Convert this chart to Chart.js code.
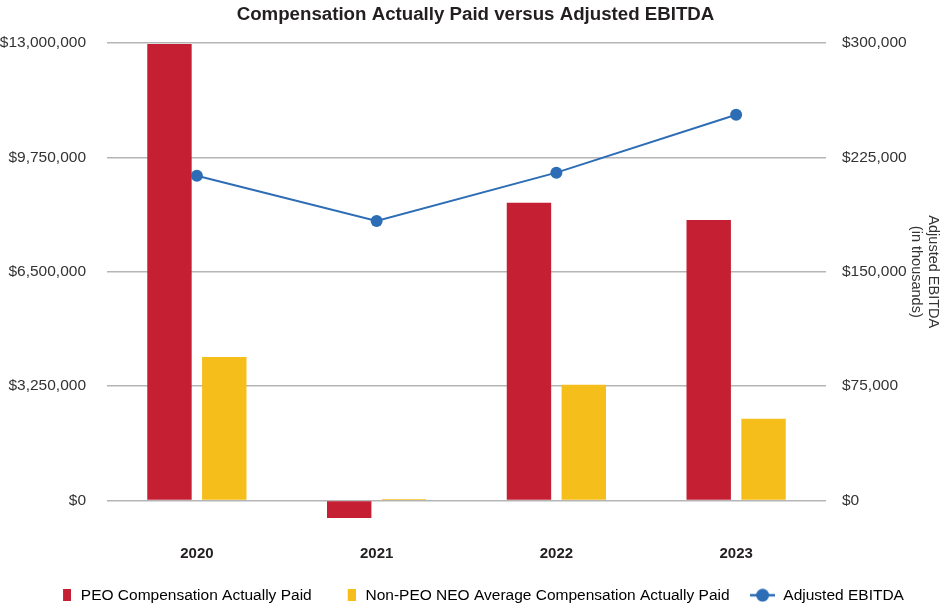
<!DOCTYPE html>
<html>
<head>
<meta charset="utf-8">
<script src="https://cdn.jsdelivr.net/npm/chart.js@4"></script>
<style>
	body { margin: 0; background: #fff; }
	#wrap { width: 951px; height: 605px; }
</style>
</head>
<body>
<div id="wrap"><canvas id="canvas0"></canvas></div>
<script>
// values
const years = ['2020', '2021', '2022', '2023'];
const peoPaid = [12970000, -500000, 8460000, 7970000];
const neoPaid = [4080000, 40000, 3290000, 2320000];
const ebitda = [213000, 183300, 215000, 253000];
const leftTicks = [0, 3250000, 6500000, 9750000, 13000000];
const rightTicks = [0, 75000, 150000, 225000, 300000];

const RED = '#c41f33';
const YELLOW = '#f6be1a';
const BLUE = '#2d6db5';
const FONT = "'Liberation Sans', Arial, Helvetica, sans-serif";

// little legend swatches
function barSwatch(color) {
	const c = document.createElement('canvas');
	c.width = 22;
	c.height = 12;
	const g = c.getContext('2d');
	g.fillStyle = color;
	g.fillRect(14, 0, 8.5, 12);
	return c;
}

function lineSwatch(color) {
	const c = document.createElement('canvas');
	c.width = 25;
	c.height = 14;
	const g = c.getContext('2d');
	g.strokeStyle = color;
	g.lineWidth = 2.5;
	g.beginPath();
	g.moveTo(0, 7);
	g.lineTo(25, 7);
	g.stroke();
	g.fillStyle = color;
	g.beginPath();
	g.arc(12.5, 7, 6.5, 0, Math.PI * 2);
	g.fill();
	return c;
}

const swatches = [barSwatch(RED), barSwatch(YELLOW), lineSwatch(BLUE)];

const dollars = v => '$' + Number(v).toLocaleString('en-US');

const ctx = document.getElementById('canvas0').getContext('2d');

new Chart(ctx, {
	type: 'bar',
	data: {
		labels: years,
		datasets: [{
			label: 'PEO Compensation Actually Paid',
			data: peoPaid,
			backgroundColor: RED,
			yAxisID: 'y',
			clip: false,
			order: 2
		}, {
			label: 'Non-PEO NEO Average Compensation Actually Paid',
			data: neoPaid,
			backgroundColor: YELLOW,
			yAxisID: 'y',
			clip: false,
			order: 2
		}, {
			type: 'line',
			label: 'Adjusted EBITDA',
			data: ebitda,
			borderColor: BLUE,
			backgroundColor: BLUE,
			borderWidth: 2,
			pointRadius: 6,
			pointBackgroundColor: BLUE,
			pointBorderWidth: 0,
			yAxisID: 'y1',
			order: 1
		}]
	},
	options: {
		responsive: true,
		maintainAspectRatio: false,
		animation: false,
		categoryPercentage: 0.61,
		barPercentage: 0.81,
		layout: { padding: { top: 0, left: 0, right: 0, bottom: -8 } },
		plugins: {
			title: {
				display: true,
				text: 'Compensation Actually Paid versus Adjusted EBITDA',
				color: '#231f20',
				font: { family: FONT, size: 18.7, weight: 'bold' },
				padding: { top: 4, bottom: 16.6 }
			},
			legend: {
				position: 'bottom',
				labels: {
					usePointStyle: true,
					pointStyleWidth: 26,
					padding: 20,
					color: '#231f20',
					font: { family: FONT, size: 15.5 },
					generateLabels: chart => chart.data.datasets.map((ds, i) => ({
						text: ds.label,
						fillStyle: ds.backgroundColor,
						strokeStyle: ds.backgroundColor,
						lineWidth: 0,
						pointStyle: swatches[i],
						hidden: false,
						datasetIndex: i
					}))
				}
			},
			tooltip: { enabled: false }
		},
		scales: {
			x: {
				grid: { display: false, drawTicks: false },
				border: { display: false },
				ticks: {
					color: '#231f20',
					padding: 44,
					font: { family: FONT, size: 15, weight: 'bold' }
				},
				afterFit: scale => { scale.height = 67; }
			},
			y: {
				position: 'left',
				min: 0,
				max: 13000000,
				afterBuildTicks: scale => { scale.ticks = leftTicks.map(v => ({ value: v })); },
				grid: { color: '#b5b5b5', lineWidth: 1.5, drawTicks: false },
				border: { display: false },
				ticks: {
					color: '#333333',
					padding: 21,
					font: { family: FONT, size: 15.5 },
					callback: dollars
				},
				afterFit: scale => { scale.width = 107; }
			},
			y1: {
				position: 'right',
				min: 0,
				max: 300000,
				afterBuildTicks: scale => { scale.ticks = rightTicks.map(v => ({ value: v })); },
				grid: { display: false, drawTicks: false },
				border: { display: false },
				ticks: {
					color: '#333333',
					padding: 16,
					font: { family: FONT, size: 15.5 },
					callback: dollars
				},
				title: {
					display: true,
					text: ['Adjusted EBITDA', '(in thousands)'],
					color: '#333333',
					font: { family: FONT, size: 14.5 },
					padding: { top: 9, bottom: 0 }
				},
				afterFit: scale => { scale.width = 125; }
			}
		}
	}
});
</script>
</body>
</html>
